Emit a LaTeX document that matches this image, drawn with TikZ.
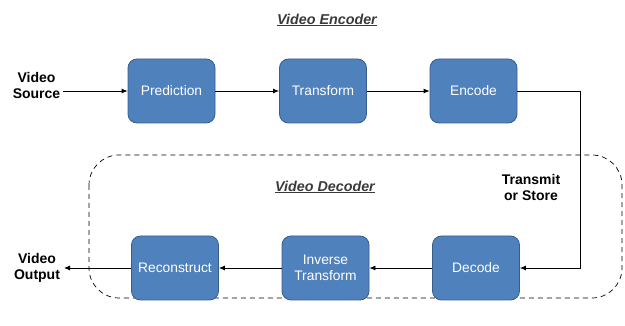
\documentclass[tikz,border=0pt]{standalone}
\usepackage{fontspec}
\setmainfont{Liberation Sans}
\usetikzlibrary{arrows.meta}
\definecolor{boxfill}{HTML}{4F81BD}
\definecolor{boxline}{HTML}{385D8A}
\definecolor{titlegray}{HTML}{3A3A3A}
\begin{document}
\begin{tikzpicture}[x=1pt,y=-1pt,
  block/.style={draw=boxline, fill=boxfill, line width=0.8pt, rounded corners=9pt,
    minimum width=87pt, minimum height=64pt, text=white, font=\fontsize{13.8}{16}\selectfont,
    align=center, inner sep=0pt},
  lbl/.style={font=\bfseries\fontsize{14}{16}\selectfont, align=center, inner sep=0pt},
  ttl/.style={font=\bfseries\itshape\fontsize{14.3}{16}\selectfont, text=titlegray, inner sep=1pt},
  flow/.style={-{Latex[length=6pt,width=5pt]}, line width=0.8pt}]
\useasboundingbox (0,0) rectangle (625,326);
\draw[line width=0.7pt, rounded corners=30pt, dash pattern=on 5pt off 4pt]
  (89,155) rectangle (622,298);
\node[ttl] (enct) at (327,20) {\underline{Video Encoder}};
\node[ttl] (dect) at (325,187) {\underline{Video Decoder}};
\node[block] (pred) at (171.5,91) {Prediction};
\node[block] (tran) at (323,91) {Transform};
\node[block] (enc) at (473.5,91) {Encode};
\node[block] (rec) at (175,268) {Reconstruct};
\node[block] (inv) at (325.5,268) {Inverse\\Transform};
\node[block] (dec) at (476,268) {Decode};
\node[lbl] (src) at (36.5,85) {Video\\Source};
\node[lbl] (out) at (37,267.5) {Video\\Output};
\node[lbl] (ts) at (531,187) {Transmit\\or Store};
\coordinate (srcend) at (63,91);
\coordinate (outend) at (64,268);
\coordinate (c1) at (580,91);
\coordinate (c2) at (580,268);
\draw[flow] (srcend) -- (pred.west);
\draw[flow] (pred) -- (tran);
\draw[flow] (tran) -- (enc);
\draw[flow] (enc.east) -- (c1) -- (c2) -- (dec.east);
\draw[flow] (dec) -- (inv);
\draw[flow] (inv) -- (rec);
\draw[flow] (rec.west) -- (outend);
\end{tikzpicture}
\end{document}
